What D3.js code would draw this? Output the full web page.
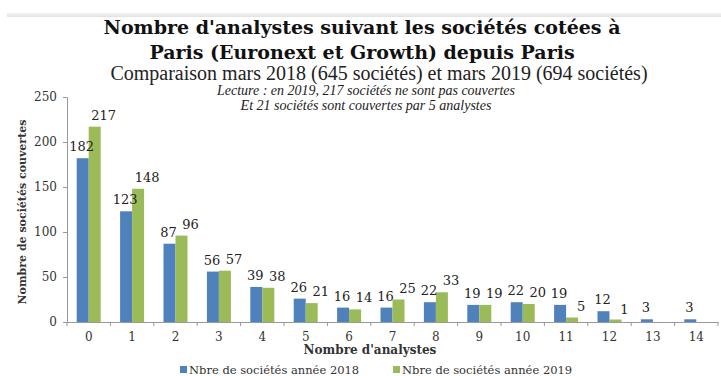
<!DOCTYPE html>
<html><head><meta charset="utf-8">
<script src="https://cdn.jsdelivr.net/npm/d3@7"></script>
<style>
body{margin:0;background:#fff;}
svg{display:block;}
</style></head>
<body>
<svg id="c" width="721" height="376"></svg>
<script>
const categories = ["0","1","2","3","4","5","6","7","8","9","10","11","12","13","14"];
const values2018 = [182,123,87,56,39,26,16,16,22,19,22,19,12,3,3];
const values2019 = [217,148,96,57,38,21,14,25,33,19,20,5,1,0,0];
const yTicks = [0,50,100,150,200,250];
const seriesNames = ["Nbre de sociétés année 2018","Nbre de sociétés année 2019"];
const colors = ["#4F81BD","#9BBB59"];

const svg = d3.select("#c");
const x0 = 67, x1 = 718, y0 = 322, y1 = 97;

// top faint band
const grad = svg.append("defs").append("linearGradient").attr("id","tb").attr("x1",0).attr("y1",0).attr("x2",0).attr("y2",1);
grad.append("stop").attr("offset","0%").attr("stop-color","#f4f4f4");
grad.append("stop").attr("offset","100%").attr("stop-color","#e2e2e2");
svg.append("rect").attr("x",7).attr("y",13).attr("width",714).attr("height",4).attr("fill","url(#tb)");

// titles
const serifB = "'DejaVu Serif', serif";
const timesF = "'Liberation Serif', serif";
svg.append("text").attr("x",362).attr("y",34).attr("text-anchor","middle")
  .style("font-family",serifB).style("font-weight","bold").style("font-size","19px").attr("fill","#111")
  .text("Nombre d'analystes suivant les sociétés cotées à");
svg.append("text").attr("x",362).attr("y",59).attr("text-anchor","middle")
  .style("font-family",serifB).style("font-weight","bold").style("font-size","19px").attr("fill","#111")
  .text("Paris (Euronext et Growth) depuis Paris");
svg.append("text").attr("x",379).attr("y",80).attr("text-anchor","middle")
  .style("font-family",timesF).style("font-size","20px").attr("fill","#222")
  .text("Comparaison mars 2018 (645 sociétés) et mars 2019 (694 sociétés)");
svg.append("text").attr("x",366).attr("y",95).attr("text-anchor","middle")
  .style("font-family",timesF).style("font-style","italic").style("font-size","14px").attr("fill","#222")
  .text("Lecture : en 2019, 217 sociétés ne sont pas couvertes");
svg.append("text").attr("x",366).attr("y",110).attr("text-anchor","middle")
  .style("font-family",timesF).style("font-style","italic").style("font-size","14px").attr("fill","#222")
  .text("Et 21 sociétés sont couvertes par 5 analystes");

const x = d3.scaleBand().domain(categories).range([x0,x1]).paddingInner(0).paddingOuter(0);
const y = d3.scaleLinear().domain([0,250]).range([y0,y1]);
const barW = 12;

const g = svg.append("g");
// y axis
const yAxis = d3.axisLeft(y).tickValues(yTicks).tickSize(4).tickPadding(6);
const ya = svg.append("g").attr("transform",`translate(${x0},0)`).call(yAxis);
ya.attr("font-family",null);
ya.select(".domain").attr("stroke","#999");
ya.selectAll(".tick line").attr("stroke","#999");
ya.selectAll("text").style("font-family",serifB).style("font-size","12px").attr("fill","#333");

// x axis
const xa = svg.append("g").attr("transform",`translate(0,${y0})`)
  .call(d3.axisBottom(x).tickSize(0).tickPadding(10));
xa.attr("font-family",null);
xa.select(".domain").attr("stroke","#999");
xa.selectAll("text").style("font-family",serifB).style("font-size","12px").attr("fill","#333");
// boundary tick marks
svg.append("g").selectAll("line").data(d3.range(categories.length+1)).join("line")
  .attr("x1",i=> x0 + i*x.bandwidth()).attr("x2",i=> x0 + i*x.bandwidth())
  .attr("y1",y0).attr("y2",y0+4).attr("stroke","#999");

// bars
const series = [values2018, values2019];
series.forEach((vals, s) => {
  g.append("g").selectAll("rect").data(vals).join("rect")
    .attr("x",(d,i)=> x(categories[i]) + x.bandwidth()/2 - barW + s*barW)
    .attr("y",d=> Math.min(y(d), y0-2.5))
    .attr("width",barW)
    .attr("height",d=> d>0 ? Math.max(2.5, y0-y(d)) : 0)
    .attr("fill",colors[s]);
});

// labels
const dxs = [-1, 9];
series.forEach((vals, s) => {
  vals.forEach((d,i) => {
    if (d<=0) return;
    const cx = x(categories[i]) + x.bandwidth()/2 - barW/2 + s*barW + dxs[s];
    g.append("text").attr("x",cx).attr("y",y(d) - 7).attr("text-anchor","middle")
      .style("font-family",serifB).style("font-size","13px").attr("fill","#222").text(d);
  });
});

// axis titles
svg.append("text").attr("transform","translate(26,212) rotate(-90)").attr("text-anchor","middle")
  .style("font-family",serifB).style("font-weight","bold").style("font-size","11px").attr("fill","#333")
  .text("Nombre de sociétés couvertes");
svg.append("text").attr("x",370).attr("y",354).attr("text-anchor","middle")
  .style("font-family",serifB).style("font-weight","bold").style("font-size","12px").attr("fill","#333")
  .text("Nombre d'analystes");

// legend
const lx = [180, 393];
seriesNames.forEach((n,s) => {
  svg.append("rect").attr("x",lx[s]).attr("y",366).attr("width",7).attr("height",7).attr("fill",colors[s]);
  svg.append("text").attr("x",lx[s]+9).attr("y",374)
    .style("font-family",serifB).style("font-size","11.5px").attr("fill","#333").text(n);
});
</script>
</body></html>
